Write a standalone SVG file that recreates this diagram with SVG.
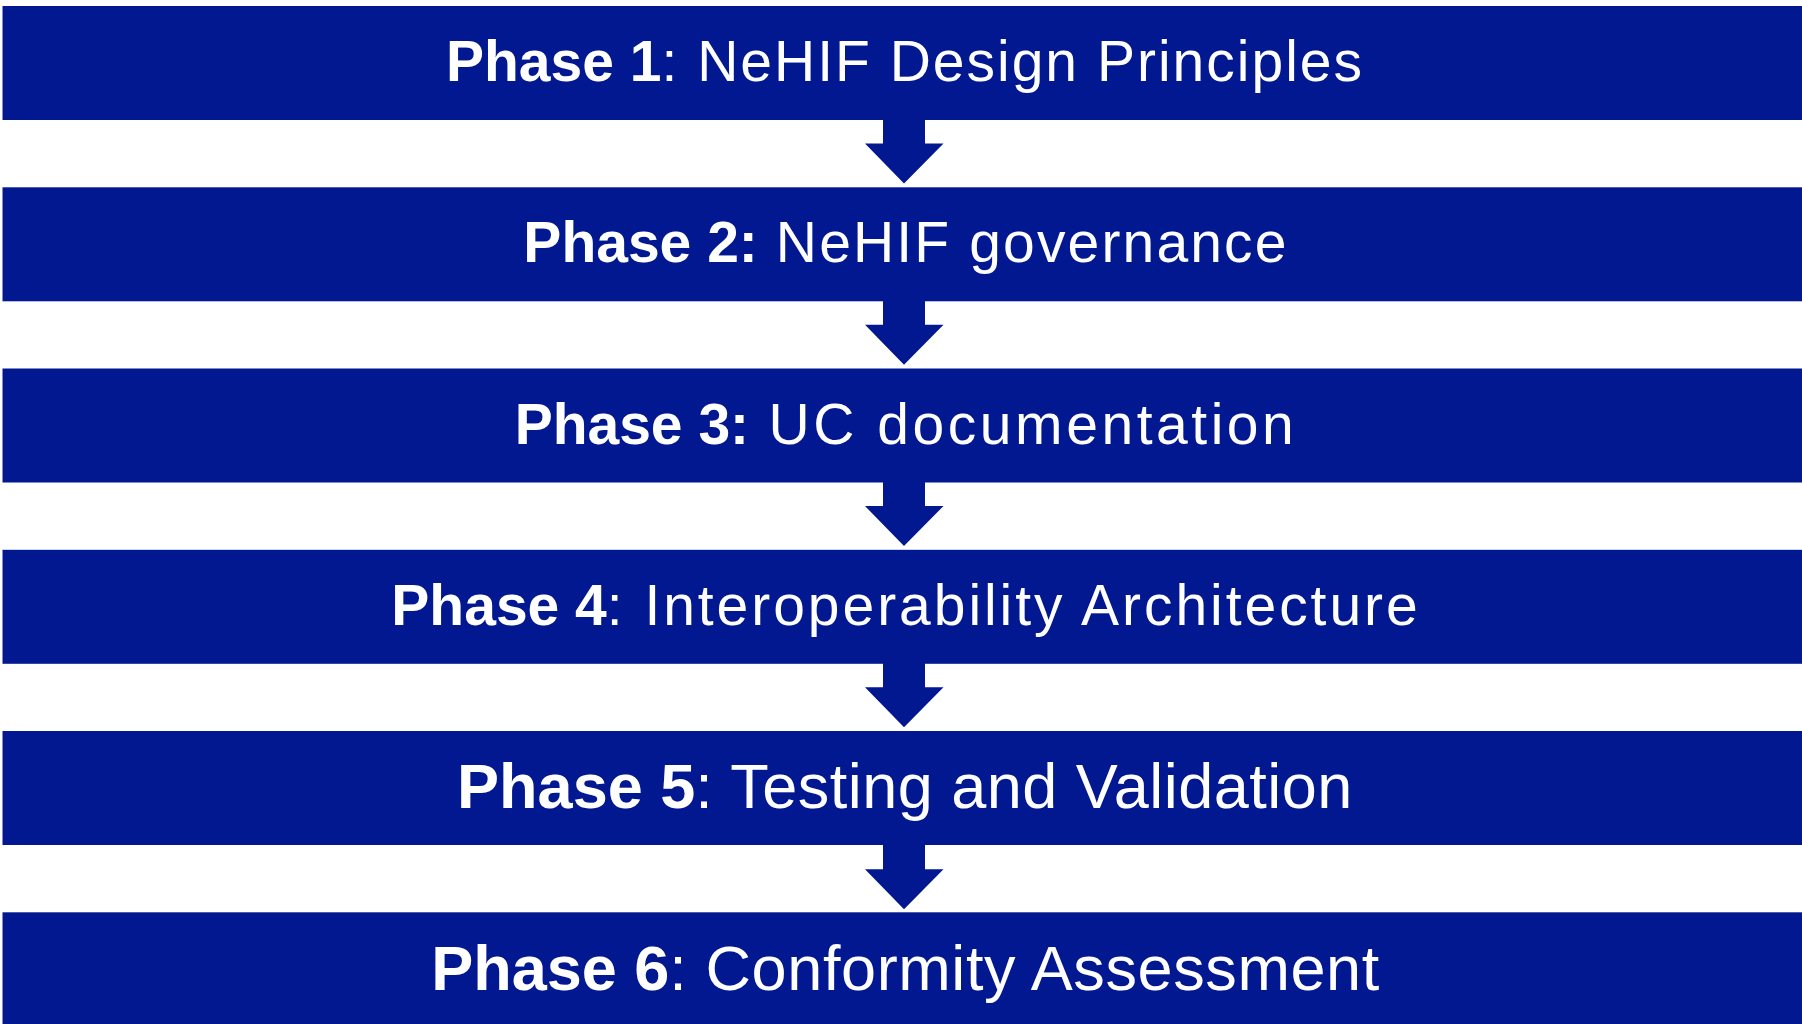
<svg xmlns="http://www.w3.org/2000/svg" width="1802" height="1024" viewBox="0 0 1802 1024">
<style>
.box{fill:#021891}
.arrow{fill:#021891}
.lbl{font-family:"Liberation Sans",Arial,sans-serif;font-size:57px;fill:#ffffff;text-anchor:middle}
.big{font-size:63px}
.b{font-weight:bold}
.r{font-weight:normal;letter-spacing:2px}
</style>
<rect width="1802" height="1024" fill="#ffffff"/>
<g id="connectors">
<path class="arrow" d="M883,119 H925 V143.5 H943.5 L904,183.5 L865,143.5 H883 Z"/>
<path class="arrow" d="M883,300 H925 V324.8 H943.5 L904,364.8 L865,324.8 H883 Z"/>
<path class="arrow" d="M883,482 H925 V506 H943.5 L904,546 L865,506 H883 Z"/>
<path class="arrow" d="M883,663 H925 V687.3 H943.5 L904,727.3 L865,687.3 H883 Z"/>
<path class="arrow" d="M883,844 H925 V869.3 H943.5 L904,909.3 L865,869.3 H883 Z"/>
</g>
<g id="phase1">
<rect class="box" x="2.5" y="6" width="1800" height="114"/>
<text class="lbl" x="905" y="81"><tspan class="b">Phase 1</tspan><tspan class="r">: NeHIF Design Principles</tspan></text>
</g>
<g id="phase2">
<rect class="box" x="2.5" y="187.3" width="1800" height="114"/>
<text class="lbl" x="906" y="262.3"><tspan class="b">Phase 2:</tspan><tspan class="r" style="letter-spacing:2.15px"> NeHIF governance</tspan></text>
</g>
<g id="phase3">
<rect class="box" x="2.5" y="368.5" width="1800" height="114"/>
<text class="lbl" x="906" y="443.5"><tspan class="b">Phase 3:</tspan><tspan class="r" style="letter-spacing:3.55px"> UC documentation</tspan></text>
</g>
<g id="phase4">
<rect class="box" x="2.5" y="549.8" width="1800" height="114"/>
<text class="lbl" x="906" y="624.8"><tspan class="b">Phase 4</tspan><tspan class="r" style="letter-spacing:2.95px">: Interoperability Architecture</tspan></text>
</g>
<g id="phase5">
<rect class="box" x="2.5" y="731" width="1800" height="114"/>
<text class="lbl big" x="905" y="808.3"><tspan class="b">Phase 5</tspan><tspan class="r" style="letter-spacing:0.5px">: Testing and Validation</tspan></text>
</g>
<g id="phase6">
<rect class="box" x="2.5" y="912.3" width="1800" height="112"/>
<text class="lbl big" x="905.5" y="989.6"><tspan class="b">Phase 6</tspan><tspan class="r" style="letter-spacing:0.6px">: Conformity Assessment</tspan></text>
</g>
</svg>
